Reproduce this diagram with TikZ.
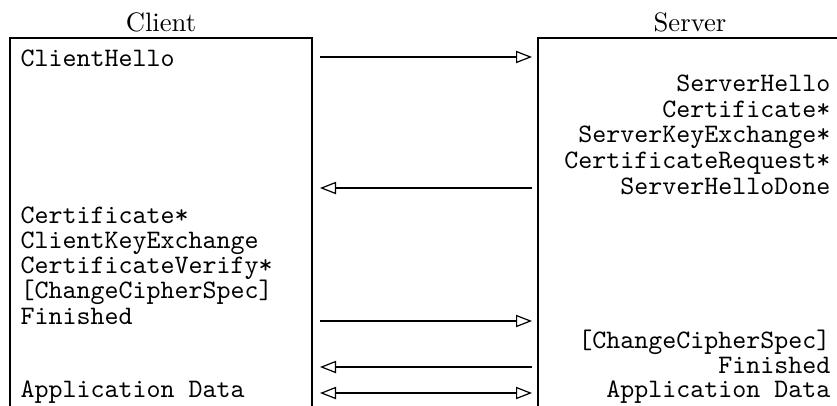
\documentclass[tikz,border=0pt]{standalone}
\usetikzlibrary{arrows.meta}
\begin{document}
\begin{tikzpicture}[x=0.375pt,y=-0.375pt,
  header/.style={font=\fontsize{10}{12}\selectfont, inner sep=0pt},
  msgl/.style={font=\ttfamily\fontsize{10}{12}\selectfont, inner sep=0pt, anchor=base west},
  msgr/.style={font=\ttfamily\fontsize{10}{12}\selectfont, inner sep=0pt, anchor=base east},
  frame/.style={draw=black, line width=0.45pt},
  flow/.style={draw=black, line width=0.45pt, -{Triangle[open,length=6pt,width=4.6pt]}},
  flowboth/.style={draw=black, line width=0.45pt, {Triangle[open,length=6pt,width=4.6pt]}-{Triangle[open,length=6pt,width=4.6pt]}}
]
\useasboundingbox (0,0) rectangle (837,405);
\clip (0,0) rectangle (837,405);

% column headings
\node[header] (client) at (161,22) {Client};
\node[header] (server) at (690,22) {Server};

% open-bottomed columns
\draw[frame] (10,420) -- (10,38) -- (312,38) -- (312,420);
\draw[frame] (538,420) -- (538,38) -- (860,38);

% client messages
\node[msgl] (chello)  at (20,66)  {ClientHello};
\node[msgl] (ccert)   at (20,223) {Certificate*};
\node[msgl] (ckex)    at (20,248) {ClientKeyExchange};
\node[msgl] (cverify) at (20,273) {CertificateVerify*};
\node[msgl] (cccs)    at (20,298) {[ChangeCipherSpec]};
\node[msgl] (cfin)    at (20,324) {Finished};
\node[msgl] (cdata)   at (20,397) {Application Data};

% server messages
\node[msgr] (shello) at (831,91)  {ServerHello};
\node[msgr] (scert)  at (831,117) {Certificate*};
\node[msgr] (skex)   at (831,142) {ServerKeyExchange*};
\node[msgr] (sreq)   at (831,168) {CertificateRequest*};
\node[msgr] (sdone)  at (831,194) {ServerHelloDone};
\node[msgr] (sccs)   at (831,348) {[ChangeCipherSpec]};
\node[msgr] (sfin)   at (831,373) {Finished};
\node[msgr] (sdata)  at (831,397) {Application Data};

% arrow end points between the columns
\coordinate (l1) at (320,57);  \coordinate (r1) at (532,57);
\coordinate (l2) at (320,188); \coordinate (r2) at (532,188);
\coordinate (l3) at (320,321); \coordinate (r3) at (532,321);
\coordinate (l4) at (320,367); \coordinate (r4) at (532,367);
\coordinate (l5) at (320,393); \coordinate (r5) at (532,393);

\draw[flow] (l1) -- (r1);
\draw[flow] (r2) -- (l2);
\draw[flow] (l3) -- (r3);
\draw[flow] (r4) -- (l4);
\draw[flowboth] (l5) -- (r5);
\end{tikzpicture}
\end{document}
